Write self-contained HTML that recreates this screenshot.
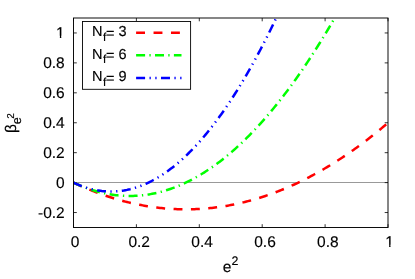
<!DOCTYPE html>
<html><head><meta charset="utf-8"><style>
html,body{margin:0;padding:0;background:#fff;}
body{width:415px;height:279px;overflow:hidden;position:relative;font-family:"Liberation Sans",sans-serif;}
svg text{text-rendering:geometricPrecision;stroke:#000;stroke-width:0.15px;font-family:"Liberation Sans",sans-serif;fill:#000;}
</style></head><body>
<svg width="415" height="279" viewBox="0 0 415 279" style="position:absolute;left:0;top:0;will-change:transform">
<defs><clipPath id="cp"><rect x="73.50" y="18.00" width="314.50" height="209.50"/></clipPath></defs>
<rect width="415" height="279" fill="#fff"/>
<line x1="73.50" y1="182.5" x2="388.00" y2="182.5" stroke="#999" stroke-width="1"/>
<path d="M73.50,227.50 v-3.3 M73.50,18.00 v3.3 M136.40,227.50 v-3.3 M136.40,18.00 v3.3 M199.30,227.50 v-3.3 M199.30,18.00 v3.3 M262.20,227.50 v-3.3 M262.20,18.00 v3.3 M325.10,227.50 v-3.3 M325.10,18.00 v3.3 M388.00,227.50 v-3.3 M388.00,18.00 v3.3 M73.50,212.54 h3.3 M388.00,212.54 h-3.3 M73.50,182.61 h3.3 M388.00,182.61 h-3.3 M73.50,152.68 h3.3 M388.00,152.68 h-3.3 M73.50,122.75 h3.3 M388.00,122.75 h-3.3 M73.50,92.82 h3.3 M388.00,92.82 h-3.3 M73.50,62.89 h3.3 M388.00,62.89 h-3.3 M73.50,32.96 h3.3 M388.00,32.96 h-3.3" stroke="#000" stroke-width="0.8" fill="none"/>
<g clip-path="url(#cp)" fill="none" stroke-width="2.5">
<path d="M73.50,182.61 L75.07,183.35 L76.64,184.08 L78.22,184.80 L79.79,185.52 L81.36,186.22 L82.94,186.91 L84.51,187.59 L86.08,188.26 L87.65,188.92 L89.22,189.57 L90.80,190.20 L92.37,190.83 L93.94,191.45 L95.52,192.06 L97.09,192.65 L98.66,193.24 L100.23,193.81 L101.81,194.38 L103.38,194.93 L104.95,195.48 L106.52,196.01 L108.09,196.53 L109.67,197.05 L111.24,197.55 L112.81,198.04 L114.38,198.52 L115.96,198.99 L117.53,199.45 L119.10,199.90 L120.67,200.34 L122.25,200.77 L123.82,201.19 L125.39,201.60 L126.97,201.99 L128.54,202.38 L130.11,202.76 L131.68,203.12 L133.25,203.48 L134.83,203.82 L136.40,204.16 L137.97,204.48 L139.55,204.80 L141.12,205.10 L142.69,205.39 L144.26,205.67 L145.84,205.95 L147.41,206.21 L148.98,206.46 L150.55,206.70 L152.12,206.93 L153.70,207.15 L155.27,207.36 L156.84,207.56 L158.42,207.74 L159.99,207.92 L161.56,208.09 L163.13,208.24 L164.70,208.39 L166.28,208.53 L167.85,208.65 L169.42,208.77 L171.00,208.87 L172.57,208.96 L174.14,209.05 L175.71,209.12 L177.29,209.18 L178.86,209.23 L180.43,209.28 L182.00,209.31 L183.58,209.33 L185.15,209.34 L186.72,209.34 L188.29,209.33 L189.87,209.30 L191.44,209.27 L193.01,209.23 L194.58,209.18 L196.16,209.11 L197.73,209.04 L199.30,208.96 L200.87,208.86 L202.45,208.76 L204.02,208.64 L205.59,208.51 L207.16,208.38 L208.73,208.23 L210.31,208.07 L211.88,207.91 L213.45,207.73 L215.03,207.54 L216.60,207.34 L218.17,207.13 L219.74,206.91 L221.31,206.68 L222.89,206.44 L224.46,206.18 L226.03,205.92 L227.60,205.65 L229.18,205.37 L230.75,205.07 L232.32,204.77 L233.90,204.45 L235.47,204.13 L237.04,203.79 L238.61,203.45 L240.19,203.09 L241.76,202.72 L243.33,202.35 L244.90,201.96 L246.48,201.56 L248.05,201.15 L249.62,200.73 L251.19,200.30 L252.77,199.86 L254.34,199.41 L255.91,198.95 L257.48,198.48 L259.05,198.00 L260.63,197.50 L262.20,197.00 L263.77,196.49 L265.35,195.96 L266.92,195.43 L268.49,194.88 L270.06,194.33 L271.63,193.76 L273.21,193.18 L274.78,192.60 L276.35,192.00 L277.93,191.39 L279.50,190.77 L281.07,190.15 L282.64,189.51 L284.22,188.86 L285.79,188.20 L287.36,187.53 L288.93,186.84 L290.50,186.15 L292.08,185.45 L293.65,184.74 L295.22,184.02 L296.79,183.28 L298.37,182.54 L299.94,181.78 L301.51,181.02 L303.09,180.24 L304.66,179.46 L306.23,178.66 L307.80,177.85 L309.38,177.04 L310.95,176.21 L312.52,175.37 L314.09,174.52 L315.66,173.66 L317.24,172.79 L318.81,171.91 L320.38,171.02 L321.96,170.12 L323.53,169.21 L325.10,168.29 L326.67,167.36 L328.25,166.41 L329.82,165.46 L331.39,164.50 L332.96,163.52 L334.54,162.54 L336.11,161.54 L337.68,160.54 L339.25,159.52 L340.82,158.49 L342.40,157.46 L343.97,156.41 L345.54,155.35 L347.12,154.28 L348.69,153.20 L350.26,152.11 L351.83,151.01 L353.41,149.90 L354.98,148.78 L356.55,147.65 L358.12,146.51 L359.69,145.36 L361.27,144.19 L362.84,143.02 L364.41,141.84 L365.99,140.64 L367.56,139.44 L369.13,138.22 L370.70,137.00 L372.28,135.76 L373.85,134.52 L375.42,133.26 L376.99,131.99 L378.56,130.71 L380.14,129.42 L381.71,128.13 L383.28,126.82 L384.86,125.50 L386.43,124.17 L388.00,122.82" stroke="#ff0000" stroke-dasharray="8.9 8.46"/>
<path d="M73.50,182.61 L75.07,183.34 L76.64,184.06 L78.22,184.76 L79.79,185.43 L81.36,186.09 L82.94,186.72 L84.51,187.33 L86.08,187.92 L87.65,188.49 L89.22,189.04 L90.80,189.57 L92.37,190.08 L93.94,190.56 L95.52,191.03 L97.09,191.47 L98.66,191.90 L100.23,192.30 L101.81,192.68 L103.38,193.04 L104.95,193.38 L106.52,193.70 L108.09,194.00 L109.67,194.28 L111.24,194.53 L112.81,194.77 L114.38,194.98 L115.96,195.18 L117.53,195.35 L119.10,195.50 L120.67,195.63 L122.25,195.74 L123.82,195.83 L125.39,195.90 L126.97,195.94 L128.54,195.97 L130.11,195.97 L131.68,195.96 L133.25,195.92 L134.83,195.86 L136.40,195.78 L137.97,195.68 L139.55,195.56 L141.12,195.42 L142.69,195.26 L144.26,195.07 L145.84,194.87 L147.41,194.64 L148.98,194.40 L150.55,194.13 L152.12,193.84 L153.70,193.53 L155.27,193.20 L156.84,192.85 L158.42,192.48 L159.99,192.08 L161.56,191.67 L163.13,191.23 L164.70,190.78 L166.28,190.30 L167.85,189.80 L169.42,189.28 L171.00,188.74 L172.57,188.18 L174.14,187.60 L175.71,187.00 L177.29,186.38 L178.86,185.73 L180.43,185.07 L182.00,184.38 L183.58,183.67 L185.15,182.94 L186.72,182.20 L188.29,181.43 L189.87,180.63 L191.44,179.82 L193.01,178.99 L194.58,178.14 L196.16,177.26 L197.73,176.36 L199.30,175.45 L200.87,174.51 L202.45,173.55 L204.02,172.57 L205.59,171.57 L207.16,170.55 L208.73,169.51 L210.31,168.44 L211.88,167.36 L213.45,166.26 L215.03,165.13 L216.60,163.98 L218.17,162.81 L219.74,161.63 L221.31,160.42 L222.89,159.18 L224.46,157.93 L226.03,156.66 L227.60,155.37 L229.18,154.05 L230.75,152.72 L232.32,151.36 L233.90,149.98 L235.47,148.58 L237.04,147.16 L238.61,145.72 L240.19,144.26 L241.76,142.78 L243.33,141.28 L244.90,139.75 L246.48,138.21 L248.05,136.64 L249.62,135.06 L251.19,133.45 L252.77,131.82 L254.34,130.17 L255.91,128.50 L257.48,126.81 L259.05,125.09 L260.63,123.36 L262.20,121.61 L263.77,119.83 L265.35,118.04 L266.92,116.22 L268.49,114.38 L270.06,112.52 L271.63,110.64 L273.21,108.74 L274.78,106.82 L276.35,104.87 L277.93,102.91 L279.50,100.93 L281.07,98.92 L282.64,96.89 L284.22,94.85 L285.79,92.78 L287.36,90.69 L288.93,88.58 L290.50,86.45 L292.08,84.29 L293.65,82.12 L295.22,79.93 L296.79,77.71 L298.37,75.48 L299.94,73.22 L301.51,70.94 L303.09,68.64 L304.66,66.32 L306.23,63.98 L307.80,61.62 L309.38,59.24 L310.95,56.83 L312.52,54.41 L314.09,51.96 L315.66,49.50 L317.24,47.01 L318.81,44.50 L320.38,41.97 L321.96,39.42 L323.53,36.85 L325.10,34.26 L326.67,31.64 L328.25,29.01 L329.82,26.36 L331.39,23.68 L332.96,20.98 L334.54,18.26 L336.11,15.53 L337.68,12.77 L339.25,9.99 L340.82,7.18 L342.40,4.36 L343.97,1.52 L345.54,-1.35 L347.12,-4.23 L348.69,-7.14 L350.26,-10.06 L351.83,-13.01 L353.41,-15.98 L354.98,-18.97 L356.55,-21.98 L358.12,-25.01 L359.69,-28.07 L361.27,-31.14 L362.84,-34.24 L364.41,-37.35 L365.99,-40.49 L367.56,-43.65 L369.13,-46.82 L370.70,-50.02 L372.28,-53.24 L373.85,-56.49 L375.42,-59.75 L376.99,-63.03 L378.56,-66.34 L380.14,-69.66 L381.71,-73.01 L383.28,-76.37 L384.86,-79.76 L386.43,-83.17 L388.00,-86.60" stroke="#00ff00" stroke-dasharray="9 4.37 1.3 4.37"/>
<path d="M73.50,182.61 L75.07,183.34 L76.64,184.04 L78.22,184.71 L79.79,185.35 L81.36,185.96 L82.94,186.53 L84.51,187.08 L86.08,187.59 L87.65,188.07 L89.22,188.52 L90.80,188.94 L92.37,189.32 L93.94,189.68 L95.52,190.00 L97.09,190.30 L98.66,190.56 L100.23,190.79 L101.81,190.99 L103.38,191.15 L104.95,191.29 L106.52,191.39 L108.09,191.47 L109.67,191.51 L111.24,191.52 L112.81,191.50 L114.38,191.44 L115.96,191.36 L117.53,191.24 L119.10,191.10 L120.67,190.92 L122.25,190.71 L123.82,190.47 L125.39,190.19 L126.97,189.89 L128.54,189.55 L130.11,189.19 L131.68,188.79 L133.25,188.36 L134.83,187.90 L136.40,187.40 L137.97,186.88 L139.55,186.33 L141.12,185.74 L142.69,185.12 L144.26,184.47 L145.84,183.79 L147.41,183.08 L148.98,182.33 L150.55,181.56 L152.12,180.75 L153.70,179.91 L155.27,179.04 L156.84,178.14 L158.42,177.21 L159.99,176.25 L161.56,175.25 L163.13,174.22 L164.70,173.17 L166.28,172.08 L167.85,170.96 L169.42,169.80 L171.00,168.62 L172.57,167.40 L174.14,166.16 L175.71,164.88 L177.29,163.57 L178.86,162.23 L180.43,160.86 L182.00,159.45 L183.58,158.02 L185.15,156.55 L186.72,155.05 L188.29,153.52 L189.87,151.96 L191.44,150.37 L193.01,148.75 L194.58,147.09 L196.16,145.41 L197.73,143.69 L199.30,141.94 L200.87,140.16 L202.45,138.35 L204.02,136.50 L205.59,134.63 L207.16,132.72 L208.73,130.79 L210.31,128.82 L211.88,126.82 L213.45,124.78 L215.03,122.72 L216.60,120.63 L218.17,118.50 L219.74,116.34 L221.31,114.15 L222.89,111.93 L224.46,109.68 L226.03,107.40 L227.60,105.08 L229.18,102.74 L230.75,100.36 L232.32,97.95 L233.90,95.51 L235.47,93.04 L237.04,90.54 L238.61,88.00 L240.19,85.44 L241.76,82.84 L243.33,80.21 L244.90,77.55 L246.48,74.86 L248.05,72.13 L249.62,69.38 L251.19,66.59 L252.77,63.78 L254.34,60.93 L255.91,58.05 L257.48,55.14 L259.05,52.19 L260.63,49.22 L262.20,46.21 L263.77,43.18 L265.35,40.11 L266.92,37.01 L268.49,33.88 L270.06,30.71 L271.63,27.52 L273.21,24.29 L274.78,21.04 L276.35,17.75 L277.93,14.43 L279.50,11.08 L281.07,7.69 L282.64,4.28 L284.22,0.83 L285.79,-2.64 L287.36,-6.15 L288.93,-9.69 L290.50,-13.26 L292.08,-16.86 L293.65,-20.50 L295.22,-24.16 L296.79,-27.86 L298.37,-31.59 L299.94,-35.35 L301.51,-39.14 L303.09,-42.96 L304.66,-46.82 L306.23,-50.70 L307.80,-54.62 L309.38,-58.57 L310.95,-62.55 L312.52,-66.56 L314.09,-70.60 L315.66,-74.67 L317.24,-78.78 L318.81,-82.91 L320.38,-87.08 L321.96,-91.28 L323.53,-95.51 L325.10,-99.77 L326.67,-104.07 L328.25,-108.39 L329.82,-112.75 L331.39,-117.14 L332.96,-121.56 L334.54,-126.01 L336.11,-130.49 L337.68,-135.00 L339.25,-139.55 L340.82,-144.13 L342.40,-148.73 L343.97,-153.37 L345.54,-158.04 L347.12,-162.75 L348.69,-167.48 L350.26,-172.24 L351.83,-177.04 L353.41,-181.87 L354.98,-186.73 L356.55,-191.62 L358.12,-196.54 L359.69,-201.49 L361.27,-206.48 L362.84,-211.49 L364.41,-216.54 L365.99,-221.62 L367.56,-226.73 L369.13,-231.87 L370.70,-237.05 L372.28,-242.25 L373.85,-247.49 L375.42,-252.75 L376.99,-258.05 L378.56,-263.38 L380.14,-268.75 L381.71,-274.14 L383.28,-279.56 L384.86,-285.02 L386.43,-290.51 L388.00,-296.03" stroke="#0000ff" stroke-dasharray="9 4.4 1.3 4.45 1.3 4.4"/>
</g>
<rect x="73.50" y="18.00" width="314.50" height="209.50" fill="none" stroke="#000" stroke-width="0.95"/>
<rect x="82.5" y="21.5" width="108.1" height="67.8" fill="#fff" stroke="#000" stroke-width="0.9"/>
<line x1="136.1" y1="32.70" x2="181.5" y2="32.70" stroke="#ff0000" stroke-width="2.5" stroke-dasharray="8.9 8.54"/>
<text y="36.00" font-size="14.5"><tspan x="91.95">N</tspan><tspan x="103.0" font-size="11.6" dy="4.6">f</tspan><tspan x="106.0" dy="-2.9">=</tspan><tspan x="118.6" dy="-1.7">3</tspan></text>
<line x1="136.1" y1="55.35" x2="181.5" y2="55.35" stroke="#00ff00" stroke-width="2.5" stroke-dasharray="9 4.3 1.3 4.3"/>
<text y="58.65" font-size="14.5"><tspan x="91.95">N</tspan><tspan x="103.0" font-size="11.6" dy="4.6">f</tspan><tspan x="106.0" dy="-2.9">=</tspan><tspan x="118.6" dy="-1.7">6</tspan></text>
<line x1="136.1" y1="78.00" x2="181.5" y2="78.00" stroke="#0000ff" stroke-width="2.5" stroke-dasharray="9 4.4 1.3 4.5 1.3 4.4"/>
<text y="81.30" font-size="14.5"><tspan x="91.95">N</tspan><tspan x="103.0" font-size="11.6" dy="4.6">f</tspan><tspan x="106.0" dy="-2.9">=</tspan><tspan x="118.6" dy="-1.7">9</tspan></text>
<text x="75.10" y="247.0" font-size="15.5" text-anchor="middle">0</text>
<text x="139.20" y="247.0" font-size="15.5" text-anchor="middle">0.2</text>
<text x="202.10" y="247.0" font-size="15.5" text-anchor="middle">0.4</text>
<text x="265.00" y="247.0" font-size="15.5" text-anchor="middle">0.6</text>
<text x="327.90" y="247.0" font-size="15.5" text-anchor="middle">0.8</text>
<text x="389.60" y="247.0" font-size="15.5" text-anchor="middle">1</text>
<text x="64.7" y="218.14" font-size="15.5" text-anchor="end">-0.2</text>
<text x="64.7" y="188.21" font-size="15.5" text-anchor="end">0</text>
<text x="64.7" y="158.28" font-size="15.5" text-anchor="end">0.2</text>
<text x="64.7" y="128.35" font-size="15.5" text-anchor="end">0.4</text>
<text x="64.7" y="98.42" font-size="15.5" text-anchor="end">0.6</text>
<text x="64.7" y="68.49" font-size="15.5" text-anchor="end">0.8</text>
<text x="64.7" y="37.56" font-size="15.5" text-anchor="end">1</text>
<path d="M56,35.7H59.87V38.6H56Z M61.28,35.7H65.5V38.6H61.28Z M385.5,244.7H389.14V247.6H385.5Z M390.52,244.7H395V247.6H390.52Z" fill="#fff"/>
<text x="222.8" y="271.7" font-size="15.5">e<tspan font-size="12.4" dy="-7.0">2</tspan></text>
<text transform="translate(15.9,133) rotate(-90)" font-size="15.5"><tspan x="0" y="0">β</tspan><tspan x="8.8" y="5.0" font-size="12.8">e</tspan><tspan x="14.3" y="-1.5" font-size="10">2</tspan></text>
</svg>
</body></html>
